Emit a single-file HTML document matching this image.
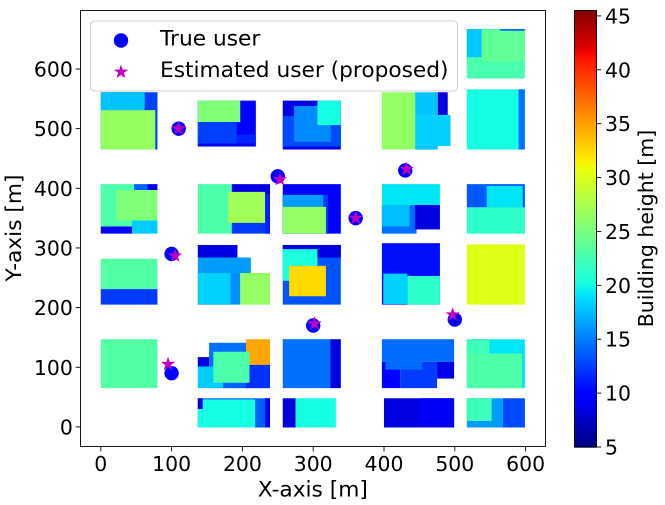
<!DOCTYPE html>
<html>
<head>
<meta charset="utf-8">
<title>Building height map</title>
<style>
html,body{margin:0;padding:0;background:#fff;width:665px;height:505px;overflow:hidden}
svg{display:block}
text{font-family:"DejaVu Sans","Liberation Sans",sans-serif;fill:#000}
</style>
</head>
<body>
<svg id="chart" width="665" height="505" viewBox="0 0 665 505" xmlns="http://www.w3.org/2000/svg"></svg>
<script>
// Axis ticks
const xTicks = [0, 100, 200, 300, 400, 500, 600];
const yTicks = [0, 100, 200, 300, 400, 500, 600];
const heightTicks = [5, 10, 15, 20, 25, 30, 35, 40, 45];
// Users (metres)
const trueX = [110, 250, 430, 360, 100, 300, 500, 100];
const trueY = [500, 420, 430, 350, 290, 170, 180, 90];
const estX = [110, 253, 432, 360, 105, 302, 497, 95];
const estY = [500, 415, 432, 350, 287, 173, 188, 105];
// Buildings: [x0, y0, x1, y1, height] in metres / metres of height, painted in order
const rowTop = [
  [0,465,80,561,12.6],[0,531,62,561,17.8],[0,465,77,531,26.5],
  [137,470,219,547,10.1],[137,511,197,547,25.4],[137,475,192,511,12.6],[192,475,219,490,11.5],
  [257,465,339,547,8.6],[257,470,339,521,13],[273,478,325,538,15.6],[325,470,339,506,13],[306,506,339,547,20.2],
  [397,465,444,561,26.4],[444,523,476,561,17.8],[476,523,490,561,8.4],[444,471,494,523,18.3],[444,465,476,471,17.8],
  [517,465,590,566,20.2],[590,465,599,566,14.5],
  [517,584,599,667,22.7],[564,664,599,667,14],[517,620,538,667,18],[538,612,599,664,23.9]
];
const rowUpper = [
  [0,336,47,407,22.9],[47,397,66,407,14],[66,397,80,407,8.4],[0,324,44,336,9.4],[22,346,80,397,25.4],[44,324,80,346,18.2],
  [137,324,185,407,22.9],[185,389,239,407,8.4],[185,324,239,389,12.4],[232,324,239,389,11.3],[180,342,232,394,27.1],
  [257,324,339,407,9.4],[257,324,321,389,12.4],[257,369,314,389,16.3],[257,324,318,369,26.4],
  [397,372,479,407,19.2],[397,324,446,372,14.5],[444,331,479,372,8.4],[397,336,436,372,17.6],
  [517,368,599,407,13.6],[545,368,596,404,19.2],[517,324,599,368,21.4]
];
const rowMiddle = [
  [0,231,80,282,23.2],[0,205,80,231,12.4],
  [137,205,197,258,15.8],[137,284,193,305,8.4],[137,258,212,284,16.3],[137,206,183,258,18.4],[197,205,239,258,26.4],
  [257,205,339,305,13.4],[257,298,339,305,8.4],[306,284,339,305,8.4],[257,245,306,298,20.5],[266,219,318,270,32.5],
  [397,205,479,308,10.6],[399,206,433,257,18.4],[433,205,479,253,21.4],
  [517,205,599,306,30.2]
];
const rowLower = [
  [0,65,80,147,23.2],
  [153,65,239,141,14.5],[137,101,153,117,8.4],[137,65,173,101,18.2],[173,65,208,90,14],[205,65,239,104,12],[205,104,239,147,34.7],[159,74,210,126,22.9],
  [257,65,324,147,14.5],[324,65,339,147,8.4],
  [397,109,499,147,14.3],[397,65,423,109,9.6],[423,65,475,109,12.4],[475,81,499,109,8.7],[402,96,454,109,14.3],
  [517,65,599,147,19.2],[517,123,549,147,22.2],[517,65,595,123,23]
];
const rowBottom = [
  [137,-1,239,48,14],[232,-1,239,48,10],[137,30,144,48,8.7],[144,-1,218,46,20.2],[137,-1,144,30,20.2],
  [257,-1,275,48,8.4],[275,-1,332,48,20.2],
  [400,-1,499,48,8.4],[450,-1,499,48,9.2],
  [517,-1,568,48,16.3],[568,-1,599,48,13],[517,10,552,48,22.2]
];
const colorbarMin = 5;
const colorbarMax = 45.5;
const jetRed = [[0,0],[0.35,0],[0.66,1],[0.89,1],[1,0.5]];
const jetGreen = [[0,0],[0.125,0],[0.375,1],[0.64,1],[0.91,0],[1,0]];
const jetBlue = [[0,0.5],[0.11,1],[0.34,1],[0.65,0],[1,0]];

const NS = 'http://www.w3.org/2000/svg';
const svg = document.getElementById('chart');
const plotL = 80.5, plotR = 545.5, plotT = 10.5, plotB = 446.5;
const cbL = 574.5, cbR = 596.5, cbT = 10.5, cbB = 447;
function sx(v){ return 100.8 + v * 0.708; }
function sy(v){ return 426.9 - v * 0.5965; }
function sc(v){ return cbB - (v - colorbarMin) / (colorbarMax - colorbarMin) * (cbB - cbT); }
function ramp(seg, t){
  for (let i = 1; i < seg.length; i++){
    if (t <= seg[i][0]){
      const a = seg[i-1], b = seg[i];
      return a[1] + (b[1]-a[1]) * (t-a[0]) / (b[0]-a[0]);
    }
  }
  return seg[seg.length-1][1];
}
function jet(h){
  const t = Math.max(0, Math.min(1, (h - colorbarMin) / (colorbarMax - colorbarMin)));
  return 'rgb(' + Math.round(ramp(jetRed,t)*255) + ',' + Math.round(ramp(jetGreen,t)*255) + ',' + Math.round(ramp(jetBlue,t)*255) + ')';
}
function make(tag, attrs, parent){
  const e = document.createElementNS(NS, tag);
  for (const k in attrs) e.setAttribute(k, attrs[k]);
  (parent || svg).appendChild(e);
  return e;
}
function group(name){
  const g = make('g', {});
  
  
  return g;
}
function label(parent, x, y, str, size, anchor, transform){
  const t = make('text', {x:x, y:y, 'font-size':size, 'text-anchor':anchor}, parent);
  if (transform) t.setAttribute('transform', transform);
  t.textContent = str;
  return t;
}
function starPoints(cx, cy, R){
  const pts = [];
  for (let i = 0; i < 10; i++){
    const r = i % 2 ? R * 0.381966 : R;
    const a = -Math.PI/2 + i * Math.PI/5;
    pts.push((cx + r*Math.cos(a)).toFixed(2) + ',' + (cy + r*Math.sin(a)).toFixed(2));
  }
  return pts.join(' ');
}

// Buildings
const buildingsGroup = group('building-map');
[rowTop, rowUpper, rowMiddle, rowLower, rowBottom].forEach(function(row){
  row.forEach(function(c){
    const x0 = sx(c[0]), x1 = sx(c[2]), y0 = sy(c[3]), y1 = sy(c[1]);
    const r = make('rect', {x:x0, y:y0, width:x1-x0, height:y1-y0, fill:jet(c[4])}, buildingsGroup);
    
    
  });
});

// Users
const usersGroup = group('user-markers');
trueX.forEach(function(v, i){
  const c = make('circle', {cx:sx(v), cy:sy(trueY[i]), r:7.2, fill:'#0000ff'}, usersGroup);
  
  
});
estX.forEach(function(v, i){
  const p = make('polygon', {points:starPoints(sx(v), sy(estY[i]), 7.6), fill:'#bf00bf'}, usersGroup);
  
  
});

// Spines
const frame = make('rect', {x:plotL, y:plotT, width:plotR-plotL, height:plotB-plotT, fill:'none', stroke:'#000', 'stroke-width':0.9});



// X axis
const xAxis = group('x-axis');
xTicks.forEach(function(v){
  make('line', {x1:sx(v), x2:sx(v), y1:plotB, y2:plotB+4.8, stroke:'#000', 'stroke-width':0.9}, xAxis);
  const t = label(xAxis, sx(v), 471, String(v), 20.4, 'middle');
  
  
});
const xTitle = label(svg, 312.8, 496.5, 'X-axis [m]', 21.7, 'middle');



// Y axis
const yAxis = group('y-axis');
yTicks.forEach(function(v){
  make('line', {x1:plotL-4.8, x2:plotL, y1:sy(v), y2:sy(v), stroke:'#000', 'stroke-width':0.9}, yAxis);
  const t = label(yAxis, 72.8, sy(v)+7.5, String(v), 20.4, 'end');
  
  
});
const yTitle = label(svg, 21, 228, 'Y-axis [m]', 21.7, 'middle', 'rotate(-90 21 228)');



// Legend
const legend = group('legend');
const legendBox = make('rect', {x:90.5, y:21, width:367, height:70, rx:4, fill:'#fff', 'fill-opacity':0.9, stroke:'#d0d0d0', 'stroke-width':1}, legend);


const legendCircle = make('circle', {cx:121, cy:40.5, r:7.2, fill:'#0000ff'}, legend);


const legendStar = make('polygon', {points:starPoints(121, 72, 7.6), fill:'#bf00bf'}, legend);


const legendText1 = label(legend, 160, 45.5, 'True user', 21.7, 'start');


const legendText2 = label(legend, 160, 77, 'Estimated user (proposed)', 21.7, 'start');



// Colorbar
const colorbar = group('colorbar');
const H = Math.round(cbB - cbT);
for (let i = 0; i < H; i++){
  const h = colorbarMax - (i + 0.5) / H * (colorbarMax - colorbarMin);
  make('rect', {x:cbL, y:cbT+i, width:cbR-cbL, height:1.2, fill:jet(h)}, colorbar);
}
const cbFrame = make('rect', {x:cbL, y:cbT, width:cbR-cbL, height:cbB-cbT, fill:'none', stroke:'#000', 'stroke-width':0.9}, colorbar);


heightTicks.forEach(function(v){
  make('line', {x1:cbR, x2:cbR+4.8, y1:sc(v), y2:sc(v), stroke:'#000', 'stroke-width':0.9}, colorbar);
  const t = label(colorbar, 605, sc(v)+7.5, String(v), 20.4, 'start');
  
  
});
const cbTitle = label(svg, 653, 228.5, 'Building height [m]', 20.5, 'middle', 'rotate(-90 653 228.5)');


</script>
</body>
</html>
